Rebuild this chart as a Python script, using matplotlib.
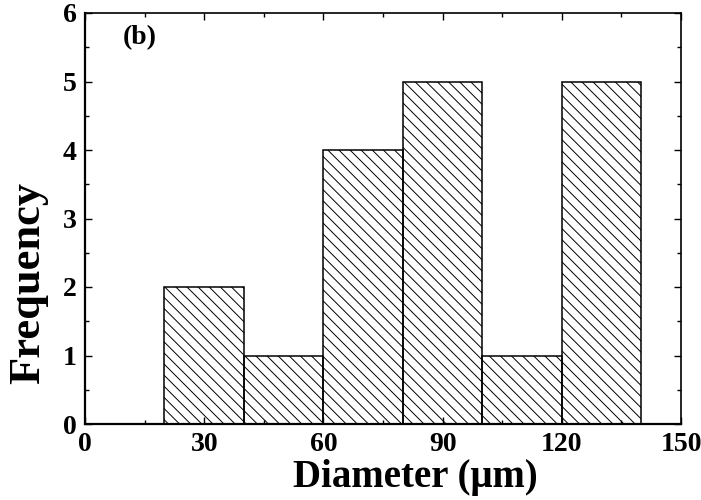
import matplotlib
matplotlib.use('Agg')
import matplotlib.pyplot as plt
from matplotlib.ticker import MultipleLocator

# histogram bins (um) and counts
bin_left = [20, 40, 60, 80, 100, 120]
bin_width = 20
frequency = [2, 1, 4, 5, 1, 5]

x_ticks = [0, 30, 60, 90, 120, 150]
y_ticks = [0, 1, 2, 3, 4, 5, 6]

plt.rcParams['font.family'] = ['Liberation Serif', 'DejaVu Serif']
plt.rcParams['font.weight'] = 'bold'
plt.rcParams['hatch.linewidth'] = 0.7

fig = plt.figure(figsize=(7.01, 5.0), dpi=100)
ax = fig.add_axes([0.1213, 0.152, 0.8502, 0.822])

ax.bar(bin_left, frequency, width=bin_width, align='edge',
       facecolor='none', edgecolor='black', linewidth=1.1, hatch='\\\\\\')

ax.set_xlim(0, 150)
ax.set_ylim(0, 6)
ax.set_xticks(x_ticks)
ax.set_yticks(y_ticks)
ax.xaxis.set_minor_locator(MultipleLocator(15))
ax.yaxis.set_minor_locator(MultipleLocator(0.5))

ax.tick_params(which='both', direction='in', top=True, right=True,
               labelsize=20, width=1.0)
ax.tick_params(which='major', length=5, pad=6)
ax.tick_params(which='minor', length=3)
for lab in ax.get_xticklabels() + ax.get_yticklabels():
    lab.set_fontweight('bold')

for side in ['left', 'bottom']:
    ax.spines[side].set_linewidth(1.6)
for side in ['top', 'right']:
    ax.spines[side].set_linewidth(1.2)

ax.set_xlabel('Diameter (\u03bcm)', fontsize=28, fontweight='bold')
ax.xaxis.label.set_va('center')
ax.xaxis.set_label_coords(0.554, -0.131)

ax.set_ylabel('Frequency', fontsize=32, fontweight='bold')
ax.yaxis.label.set_va('center')
ax.yaxis.set_label_coords(-0.096, 0.343)

ax.text(0.064, 0.939, '(b)', transform=ax.transAxes, fontsize=20,
        fontweight='bold', ha='left', va='center')

fig.savefig('out.png', dpi=100)
